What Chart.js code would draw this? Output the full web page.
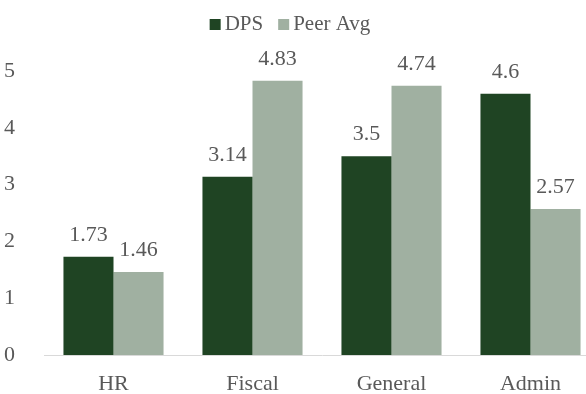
<!DOCTYPE html>
<html>
<head>
<meta charset="utf-8">
<script src="https://cdn.jsdelivr.net/npm/chart.js@4.4.1/dist/chart.umd.min.js"></script>
<style>
  html, body { margin: 0; padding: 0; background: #fff; overflow: hidden; }
  #wrap { width: 586px; height: 394px; overflow: hidden; }
</style>
</head>
<body>
<div id="wrap"><canvas id="dept-chart" width="602" height="394"></canvas></div>
<script>
var categories = ["HR", "Fiscal", "General", "Admin"];
var dpsValues = [1.73, 3.14, 3.5, 4.6];
var peerValues = [1.46, 4.83, 4.74, 2.57];
var yTicks = [0, 1, 2, 3, 4, 5];

var textColor = '#595959';
var serif = '"Liberation Serif", "Times New Roman", serif';
var fontSize = 22;

// writes each bar's value just above it
var valueLabels = {
    id: 'valueLabels',
    afterDatasetsDraw: function (chart) {
        var ctx = chart.ctx;
        ctx.save();
        ctx.font = fontSize + "px " + serif;
        ctx.fillStyle = textColor;
        ctx.textAlign = 'center';
        ctx.textBaseline = 'alphabetic';
        chart.data.datasets.forEach(function (ds, i) {
            chart.getDatasetMeta(i).data.forEach(function (bar, j) {
                ctx.fillText(String(ds.data[j]), bar.x, bar.y - 16);
            });
        });
        ctx.restore();
    }
};

// compact legend: small square, tight gap, then the series name
var topLegend = {
    id: 'topLegend',
    afterDraw: function (chart) {
        var ctx = chart.ctx;
        var box = 11, gap = 4, spacing = 15, baseline = 30, center = 290;
        ctx.save();
        ctx.font = "21px " + serif;
        ctx.textBaseline = 'alphabetic';
        ctx.textAlign = 'left';
        var items = chart.data.datasets.map(function (ds) {
            return { text: ds.label, color: ds.backgroundColor, w: ctx.measureText(ds.label).width };
        });
        var total = 0;
        items.forEach(function (it, i) {
            total += box + gap + it.w + (i < items.length - 1 ? spacing : 0);
        });
        var x = center - total / 2;
        items.forEach(function (it) {
            ctx.fillStyle = it.color;
            ctx.fillRect(x, baseline - box, box, box);
            x += box + gap;
            ctx.fillStyle = textColor;
            ctx.fillText(it.text, x, baseline);
            x += it.w + spacing;
        });
        ctx.restore();
    }
};

new Chart(document.getElementById("dept-chart"), {
    type: 'bar',
    data: {
        labels: categories,
        datasets: [
            {
                label: "DPS",
                backgroundColor: "#1f4423",
                data: dpsValues
            },
            {
                label: "Peer Avg",
                backgroundColor: "#a0b0a1",
                data: peerValues
            }
        ]
    },
    options: {
        responsive: false,
        animation: false,
        layout: { padding: { top: 71, right: 2, left: 0, bottom: 0 } },
        datasets: {
            bar: { categoryPercentage: 0.72, barPercentage: 1.0 }
        },
        plugins: {
            legend: { display: false },
            tooltip: { enabled: false }
        },
        scales: {
            x: {
                afterFit: function (axis) { axis.height = 39; },
                grid: { display: false },
                border: { display: true, color: '#d9d9d9', width: 1 },
                ticks: { color: textColor, font: { family: serif, size: fontSize }, padding: 8 }
            },
            y: {
                min: 0,
                max: 5,
                afterBuildTicks: function (axis) {
                    axis.ticks = yTicks.map(function (v) { return { value: v }; });
                },
                afterFit: function (axis) { axis.width = 44; },
                grid: { display: false },
                border: { display: false },
                ticks: { color: textColor, font: { family: serif, size: fontSize }, padding: 21 }
            }
        }
    },
    plugins: [valueLabels, topLegend]
});
</script>
</body>
</html>
